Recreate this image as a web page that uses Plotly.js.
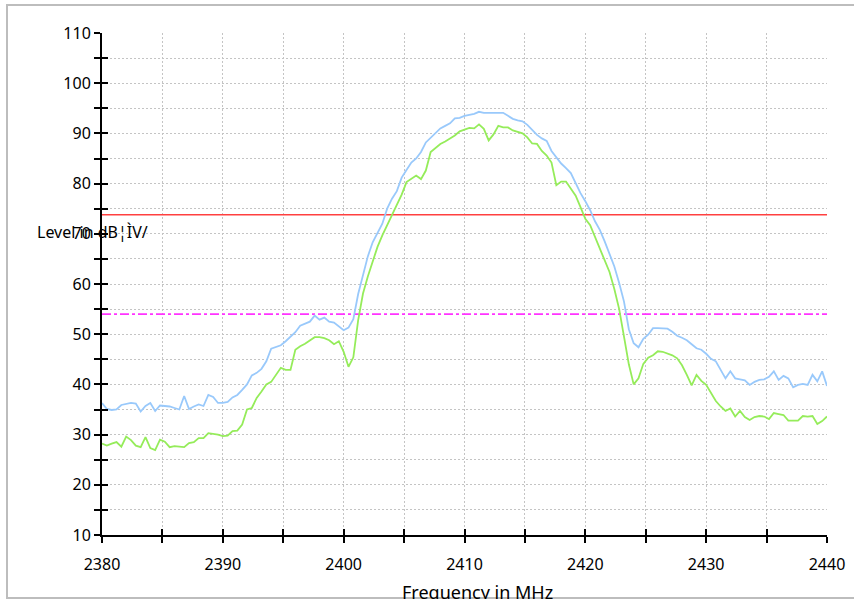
<!DOCTYPE html>
<html>
<head>
<meta charset="utf-8">
<script src="https://cdn.plot.ly/plotly-3.0.1.min.js"></script>
<style>
html,body{margin:0;padding:0;background:#fff;overflow:hidden;}
#clip{width:854px;height:599px;overflow:hidden;position:relative;}
#chart{width:854px;height:602px;}
</style>
</head>
<body>
<div id="clip"><div id="chart"></div></div>
<script>
// Frequency axis: start and step (MHz)
const freqStart = 2380;
const freqStep = 0.4;

// Blue trace (peak) values in dBµV/m
const bluePeak = [
36.3,35.1,34.9,35.0,35.9,36.1,36.3,36.2,34.6,35.7,
36.3,34.7,35.8,35.7,35.6,35.3,35.0,37.7,35.1,35.6,
36.0,35.7,37.9,37.5,36.3,36.3,36.5,37.4,37.9,38.9,
40.0,41.8,42.3,43.1,44.6,47.1,47.4,47.8,48.6,49.5,
50.4,51.7,52.1,52.5,53.7,52.9,53.3,52.5,52.3,51.5,
50.8,51.3,53.0,58.0,62.0,65.5,68.3,70.1,72.0,75.0,
77.0,78.5,81.2,82.7,84.2,85.0,86.3,88.2,89.2,90.2,
91.0,91.5,92.0,93.0,93.1,93.5,93.7,93.9,94.3,94.1,
94.1,94.1,94.1,94.1,93.5,92.9,92.6,92.4,91.7,90.7,
89.7,89.0,88.5,86.5,85.2,84.0,83.1,82.1,80.1,78.1,
76.5,74.7,72.5,70.8,68.5,65.8,63.5,60.2,56.5,51.0,
48.2,47.4,49.1,49.9,51.2,51.2,51.2,51.1,50.5,49.7,
49.3,48.8,48.0,47.2,46.9,46.1,45.1,44.6,42.9,41.2,
42.6,41.2,41.0,40.8,39.9,40.5,40.9,41.0,41.5,42.6,
40.9,41.7,41.2,39.4,39.9,40.1,39.9,41.9,40.6,42.6,
39.7
];

// Green trace (average) values in dBµV/m
const greenAvg = [
28.2,27.8,28.2,28.5,27.6,29.6,28.9,27.8,27.5,29.5,
27.3,26.9,29.0,28.6,27.5,27.7,27.6,27.5,28.3,28.5,
29.3,29.3,30.3,30.2,30.0,29.7,29.8,30.7,30.8,32.0,
35.0,35.3,37.3,38.6,40.0,40.5,42.0,43.3,42.9,42.9,
46.9,47.6,48.1,48.8,49.4,49.4,49.2,48.8,48.0,48.6,
46.5,43.5,45.4,52.8,58.1,61.5,64.6,67.4,69.7,71.7,
74.0,75.8,77.8,80.3,81.0,81.6,80.9,82.6,86.3,87.2,
87.9,88.4,89.0,89.6,90.4,90.8,91.1,91.0,91.8,90.9,
88.6,89.8,91.5,91.2,91.2,90.6,90.3,90.0,89.2,88.0,
87.9,86.5,85.6,84.2,79.7,80.4,80.4,78.9,77.6,75.3,
73.0,71.7,69.3,67.0,64.7,62.4,59.0,55.0,49.5,44.0,
40.0,41.2,44.1,45.3,45.8,46.6,46.5,46.2,45.8,45.2,
43.8,41.9,39.8,41.9,40.7,39.9,38.3,36.7,35.6,34.7,
35.2,33.6,34.7,33.5,32.9,33.5,33.7,33.6,33.1,34.3,
34.1,33.9,32.8,32.8,32.8,33.7,33.6,33.7,32.1,32.7,
33.6
];

// Limit lines
const limitPeak = 73.8;
const limitAvg = 54.0;
const xRange = [2380, 2440];
const yRange = [10, 110];

// Ticks
const xTickVals = [2380,2385,2390,2395,2400,2405,2410,2415,2420,2425,2430,2435,2440];
const xTickText = ["2380","","2390","","2400","","2410","","2420","","2430","","2440"];
const yTickVals = [10,15,20,25,30,35,40,45,50,55,60,65,70,75,80,85,90,95,100,105,110];
const yTickText = ["10","","20","","30","","40","","50","","60","","70","","80","","90","","100","","110"];

const yLabel = "Level in dB¦ÌV/";
const xLabel = "Frequency in MHz";

const FONT = "'Noto Sans', 'Open Sans', sans-serif";

const traces = [
  {x: xRange, y: [limitPeak, limitPeak], mode: 'lines', line: {color: '#ff4040', width: 1.6}, hoverinfo: 'skip'},
  {x: xRange, y: [limitAvg, limitAvg], mode: 'lines', line: {color: '#ff33ff', width: 1.6, dash: 'dashdot'}, hoverinfo: 'skip'},
  {x0: freqStart, dx: freqStep, y: bluePeak, mode: 'lines', line: {color: '#99c9fb', width: 1.8}},
  {x0: freqStart, dx: freqStep, y: greenAvg, mode: 'lines', line: {color: '#95ec5a', width: 1.8}},
  {x: [], y: [], xaxis: 'x2', yaxis: 'y2', mode: 'lines', hoverinfo: 'skip'}
];

const W = 725, H = 502;
const layout = {
  width: 854, height: 602,
  margin: {l: 102, r: 27, t: 33, b: 67, pad: 0},
  paper_bgcolor: '#ffffff', plot_bgcolor: '#ffffff',
  showlegend: false,
  font: {family: FONT, size: 16, color: '#000'},
  xaxis: {
    range: xRange, tickvals: xTickVals, ticktext: xTickText,
    ticks: 'outside', ticklen: 6, tickwidth: 2, tickcolor: '#000',
    showline: true, linecolor: '#000', linewidth: 2,
    showgrid: true, gridcolor: '#c4c4c4', griddash: '2px,2px', gridwidth: 1,
    zeroline: false, tickfont: {size: 16, family: FONT}, ticklabelstandoff: 8
  },
  yaxis: {
    range: yRange, tickvals: yTickVals, ticktext: yTickText,
    ticks: 'outside', ticklen: 6, tickwidth: 2, tickcolor: '#000',
    showline: true, linecolor: '#000', linewidth: 2,
    showgrid: true, gridcolor: '#c4c4c4', griddash: '2px,2px', gridwidth: 1,
    zeroline: false, tickfont: {size: 16, family: FONT}
  },
  xaxis2: {
    overlaying: 'x', anchor: 'y2', range: xRange, tickvals: xTickVals,
    ticks: 'inside', ticklen: 6, tickwidth: 2, tickcolor: '#000',
    showticklabels: false, showgrid: false, showline: false, zeroline: false
  },
  yaxis2: {
    overlaying: 'y', anchor: 'x2', range: yRange, tickvals: yTickVals,
    ticks: 'inside', ticklen: 6, tickwidth: 2, tickcolor: '#000',
    showticklabels: false, showgrid: false, showline: false, zeroline: false
  },
  annotations: [
    {text: yLabel, xref: 'paper', yref: 'paper', x: (35 - 102) / W, y: (535 - 232) / H,
     xanchor: 'left', yanchor: 'middle', showarrow: false, font: {size: 16, family: FONT, color: '#000'}},
    {text: xLabel, xref: 'paper', yref: 'paper', x: (477 - 102) / W, y: -(592 - 535) / H,
     xanchor: 'center', yanchor: 'middle', showarrow: false, font: {size: 18, family: FONT, color: '#000'}}
  ],
  shapes: [
    {type: 'rect', xref: 'paper', yref: 'paper', x0: (7 - 102) / W, x1: (862 - 102) / W,
     y0: -(598 - 535) / H, y1: 1 + (33 - 5) / H, line: {color: '#bdbdbd', width: 2}, fillcolor: 'rgba(0,0,0,0)', layer: 'below'}
  ]
};

Plotly.newPlot('chart', traces, layout, {displayModeBar: false, staticPlot: true});
</script>
</body>
</html>
